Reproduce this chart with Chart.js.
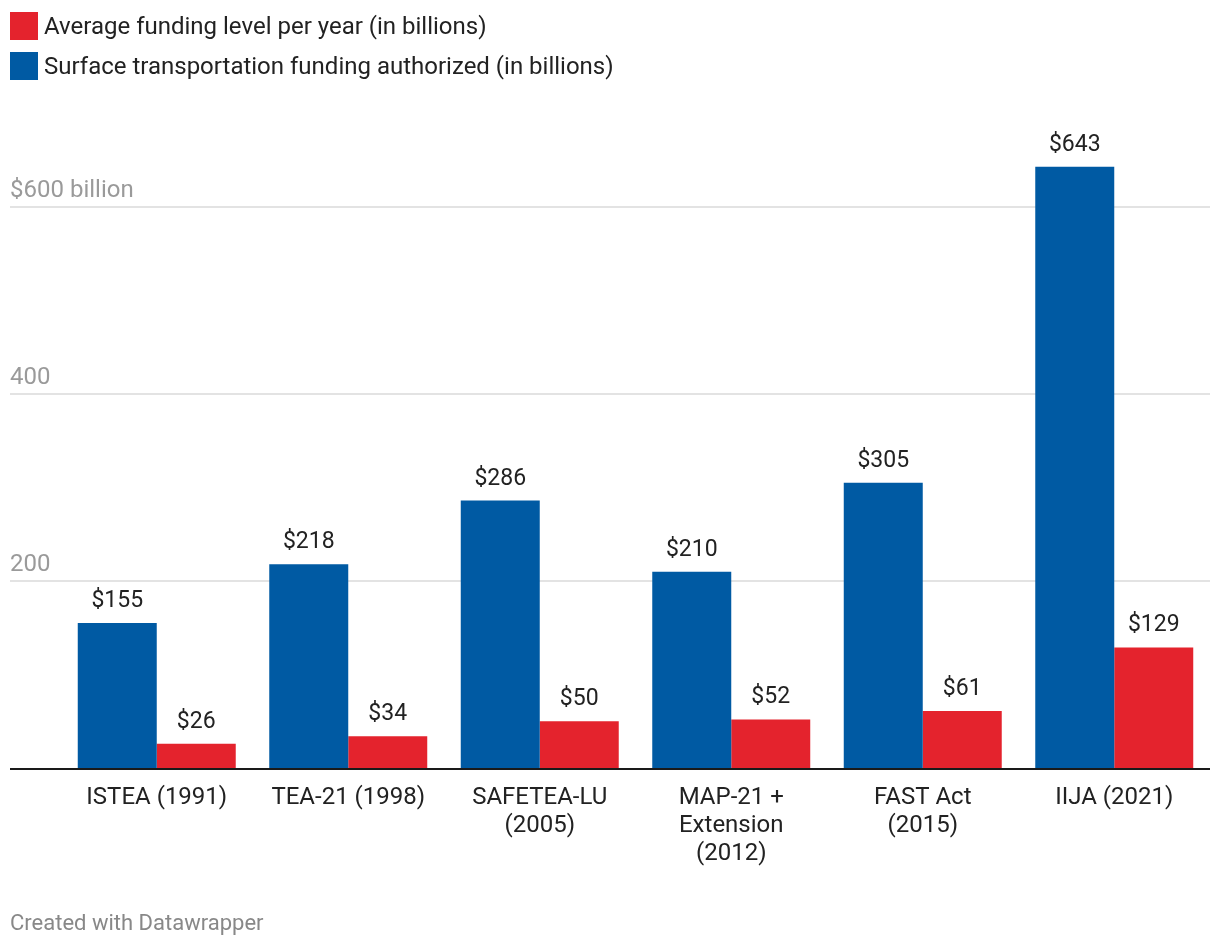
<!DOCTYPE html>
<html>
<head>
<meta charset="utf-8">
<script src="https://cdn.jsdelivr.net/npm/chart.js@4.4.0/dist/chart.umd.min.js"></script>
<style>
  html, body { margin: 0; padding: 0; background: #fff; }
  body { width: 1220px; height: 946px; position: relative; overflow: hidden; font-family: Roboto, "Noto Sans", sans-serif; }
  #wrap { position: absolute; left: 0; top: 0; width: 1220px; height: 946px; }
  #legend { position: absolute; left: 10px; top: 12px; }
  .item { display: flex; align-items: center; height: 28px; margin-bottom: 12px; font-size: 24px; color: #222; }
  .sw { width: 28px; height: 28px; margin-right: 6px; }
  #credit { position: absolute; left: 10px; top: 910px; font-size: 22px; color: #888; }
</style>
</head>
<body>
<div id="wrap"><canvas id="c"></canvas></div>
<div id="legend"></div>
<div id="credit">Created with Datawrapper</div>
<script>
const categories = [
  ['ISTEA (1991)'],
  ['TEA-21 (1998)'],
  ['SAFETEA-LU', '(2005)'],
  ['MAP-21 +', 'Extension', '(2012)'],
  ['FAST Act', '(2015)'],
  ['IIJA (2021)']
];
const authorizedLabel = 'Surface transportation funding authorized (in billions)';
const authorized = [155, 218, 286, 210, 305, 643];
const averageLabel = 'Average funding level per year (in billions)';
const average = [26, 34, 50, 52, 61, 129];
const yTicks = [200, 400, 600];
const yTickLabels = ['200', '400', '$600 billion'];

const BLUE = '#005AA3';
const RED = '#E4232D';

// HTML legend (red listed first, as in the reference)
const legendItems = [[averageLabel, RED], [authorizedLabel, BLUE]];
const lg = document.getElementById('legend');
legendItems.forEach(([t, c]) => {
  const d = document.createElement('div'); d.className = 'item';
  const s = document.createElement('div'); s.className = 'sw'; s.style.background = c;
  const sp = document.createElement('span'); sp.textContent = t;
  d.appendChild(s); d.appendChild(sp); lg.appendChild(d);
});

const decor = {
  id: 'decor',
  beforeDatasetsDraw(chart) {
    const ctx = chart.ctx, y = chart.scales.y, area = chart.chartArea;
    ctx.save();
    ctx.strokeStyle = '#e3e3e3';
    ctx.lineWidth = 2;
    ctx.font = '24px Roboto';
    ctx.fillStyle = '#9a9a9a';
    ctx.textAlign = 'left';
    ctx.textBaseline = 'alphabetic';
    yTicks.forEach((v, i) => {
      const py = Math.round(y.getPixelForValue(v));
      ctx.beginPath(); ctx.moveTo(10, py); ctx.lineTo(area.right, py); ctx.stroke();
      ctx.fillText(yTickLabels[i], 10, py - 10);
    });
    ctx.restore();
  },
  afterDatasetsDraw(chart) {
    const ctx = chart.ctx, y = chart.scales.y, area = chart.chartArea;
    ctx.save();
    const py = y.getPixelForValue(0);
    ctx.strokeStyle = '#1a1a1a';
    ctx.lineWidth = 2;
    ctx.beginPath(); ctx.moveTo(10, py + 1); ctx.lineTo(area.right, py + 1); ctx.stroke();
    ctx.font = '23px Roboto';
    ctx.fillStyle = '#222';
    ctx.textAlign = 'center';
    ctx.textBaseline = 'alphabetic';
    chart.data.datasets.forEach((ds, di) => {
      chart.getDatasetMeta(di).data.forEach((bar, i) => {
        ctx.fillText('$' + ds.data[i], bar.x, bar.y - 16);
      });
    });
    ctx.restore();
  }
};

new Chart(document.getElementById('c'), {
  type: 'bar',
  data: {
    labels: categories,
    datasets: [
      { label: authorizedLabel, data: authorized, backgroundColor: BLUE, barPercentage: 1, categoryPercentage: 0.825 },
      { label: averageLabel, data: average, backgroundColor: RED, barPercentage: 1, categoryPercentage: 0.825 }
    ]
  },
  options: {
    responsive: true,
    maintainAspectRatio: false,
    animation: false,
    layout: { padding: { top: 113.5, left: 61, right: 10, bottom: 62 } },
    plugins: { legend: { display: false }, tooltip: { enabled: false } },
    scales: {
      x: {
        grid: { display: false, drawTicks: false },
        border: { display: false },
        ticks: {
          autoSkip: false, maxRotation: 0, padding: 16,
          color: '#222',
          font: { family: 'Roboto', size: 24, lineHeight: 1.1667 }
        }
      },
      y: { display: false, min: 0, max: 700 }
    }
  },
  plugins: [decor]
});
</script>
</body>
</html>
